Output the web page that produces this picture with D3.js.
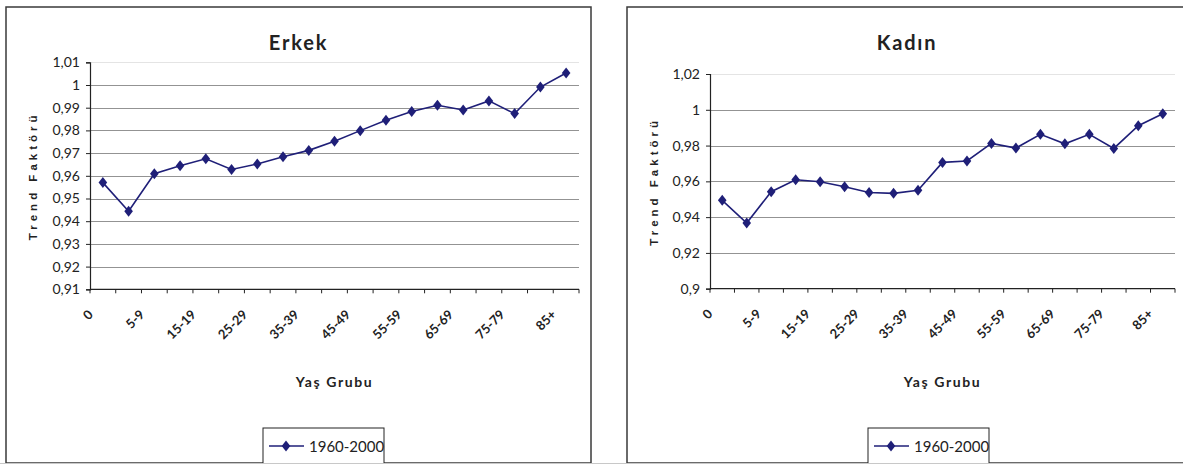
<!DOCTYPE html>
<html>
<head>
<meta charset="utf-8">
<script src="https://cdn.jsdelivr.net/npm/d3@7"></script>
<style>
  html, body { margin: 0; padding: 0; background: #fff; }
  svg { display: block; }
</style>
</head>
<body>
<svg id="chart" width="1183" height="464"></svg>
<script>
// ---- data ----
const categories = ["0","1-4","5-9","10-14","15-19","20-24","25-29","30-34","35-39","40-44",
  "45-49","50-54","55-59","60-64","65-69","70-74","75-79","80-84","85+"];
const erkekValues = [0.957,0.9444,0.9609,0.9644,0.9675,0.9628,0.9652,0.9684,0.9712,0.9752,
  0.9799,0.9845,0.9883,0.9911,0.989,0.993,0.9874,0.9991,1.0053];
const kadinValues = [0.9494,0.9367,0.9542,0.9609,0.9598,0.957,0.9538,0.9533,0.955,0.9706,
  0.9714,0.9812,0.9786,0.9863,0.981,0.9863,0.9784,0.9911,0.9978];
const erkekTicks = [0.91,0.92,0.93,0.94,0.95,0.96,0.97,0.98,0.99,1.0,1.01];
const kadinTicks = [0.90,0.92,0.94,0.96,0.98,1.0,1.02];
const erkekTickLabels = ["0,91","0,92","0,93","0,94","0,95","0,96","0,97","0,98","0,99","1","1,01"];
const kadinTickLabels = ["0,9","0,92","0,94","0,96","0,98","1","1,02"];
const seriesName = "1960-2000";
const titles = ["Erkek","Kadın"];
const yTitle = "Trend Faktörü";
const xTitle = "Yaş Grubu";

const NAVY = "#1f1f78";
const FONT = 'Lato, "Open Sans", sans-serif';
const svg = d3.select("#chart");

const panels = [
  { title: titles[0], values: erkekValues, ticks: erkekTicks, tickLabels: erkekTickLabels,
    box: [6, 7, 585, 456], plot: [90, 579, 62.3, 289.3], domain: [0.91, 1.01],
    yTitleX: 37, legend: [263, 428, 121] },
  { title: titles[1], values: kadinValues, ticks: kadinTicks, tickLabels: kadinTickLabels,
    box: [627, 7, 560, 456], plot: [710, 1175, 74, 288.7], domain: [0.90, 1.02],
    yTitleX: 658, legend: [868, 428, 121] }
];

const diamond = "M0,-5.5L4.3,0L0,5.5L-4.3,0Z";

panels.forEach(p => {
  const [bx, by, bw, bh] = p.box;
  const [x0, x1, yTop, yBot] = p.plot;
  const g = svg.append("g");

  g.append("rect").attr("x", bx).attr("y", by).attr("width", bw).attr("height", bh)
    .attr("fill", "#fff").attr("stroke", "#3a3a3a").attr("stroke-width", 1.5);

  const x = d3.scaleBand().domain(categories).range([x0, x1]).padding(0);
  const y = d3.scaleLinear().domain(p.domain).range([yBot, yTop]);

  // gridlines
  g.append("g").selectAll("line").data(p.ticks.slice(1)).join("line")
    .attr("x1", x0).attr("x2", x1)
    .attr("y1", d => Math.round(y(d)) + 0.5).attr("y2", d => Math.round(y(d)) + 0.5)
    .attr("stroke", (d, i, arr) => i === arr.length - 1 ? "#e4e4e4" : "#939393")
    .attr("stroke-width", 1.2);

  // y axis
  const yAxis = d3.axisLeft(y).tickValues(p.ticks)
    .tickFormat((d, i) => p.tickLabels[i]).tickSize(4).tickPadding(6);
  const ya = g.append("g").attr("transform", `translate(${x0},0)`).call(yAxis);
  ya.select(".domain").attr("stroke", "#222").attr("stroke-width", 1.2);
  ya.selectAll(".tick line").attr("stroke", "#222");
  ya.selectAll("text").attr("font-family", FONT).attr("font-size", 14).attr("fill", "#222");

  // x axis with ticks at category boundaries
  const xa = g.append("g").attr("transform", `translate(0,${yBot})`);
  xa.append("line").attr("x1", x0).attr("x2", x1).attr("y1", 0).attr("y2", 0)
    .attr("stroke", "#222").attr("stroke-width", 1.2);
  const bounds = categories.map(c => x(c)).concat([x1]);
  xa.selectAll("line.tk").data(bounds).join("line").attr("class", "tk")
    .attr("x1", d => d).attr("x2", d => d).attr("y1", 0).attr("y2", 4)
    .attr("stroke", "#222");
  const labelled = categories.filter((c, i) => i % 2 === 0);
  xa.selectAll("text.xl").data(labelled).join("text")
    .attr("class", "xl")
    .attr("x", d => x(d) + x.bandwidth() / 2 - 9)
    .attr("y", 26)
    .attr("transform", d => `rotate(-45 ${x(d) + x.bandwidth() / 2 - 9} 26)`)
    .attr("text-anchor", "end")
    .attr("font-family", FONT).attr("font-size", 13).attr("font-weight", "bold")
    .attr("fill", "#222").text(d => d);

  // line + markers
  const line = d3.line().x((d, i) => x(categories[i]) + x.bandwidth() / 2).y(d => y(d));
  g.append("path").datum(p.values).attr("d", line)
    .attr("fill", "none").attr("stroke", NAVY).attr("stroke-width", 1.6);
  g.append("g").selectAll("path").data(p.values).join("path")
    .attr("d", diamond)
    .attr("transform", (d, i) => `translate(${x(categories[i]) + x.bandwidth() / 2},${y(d)})`)
    .attr("fill", NAVY);

  // title
  g.append("text").attr("x", bx + bw / 2).attr("y", 50).attr("text-anchor", "middle")
    .attr("font-family", FONT).attr("font-size", 20).attr("font-weight", "bold")
    .attr("letter-spacing", 1.8).attr("fill", "#222").text(p.title);

  // y title
  g.append("text").attr("transform", `translate(${p.yTitleX},${(yTop + yBot) / 2}) rotate(-90)`)
    .attr("text-anchor", "middle").attr("font-family", '"Liberation Sans", Arial, sans-serif')
    .attr("font-size", 11.5).attr("font-weight", "bold").attr("letter-spacing", 4)
    .attr("fill", "#222").text(yTitle);

  // x title
  g.append("text").attr("x", (x0 + x1) / 2).attr("y", 387).attr("text-anchor", "middle")
    .attr("font-family", FONT).attr("font-size", 14).attr("font-weight", "bold")
    .attr("letter-spacing", 1.6).attr("fill", "#222").text(xTitle);

  // legend
  const [lx, ly, lw] = p.legend;
  const lg = g.append("g");
  lg.append("rect").attr("x", lx).attr("y", ly).attr("width", lw).attr("height", 40)
    .attr("fill", "#fff").attr("stroke", "#222").attr("stroke-width", 1);
  lg.append("line").attr("x1", lx + 6).attr("x2", lx + 41).attr("y1", ly + 18).attr("y2", ly + 18)
    .attr("stroke", NAVY).attr("stroke-width", 1.6);
  lg.append("path").attr("d", diamond).attr("transform", `translate(${lx + 23},${ly + 18})`)
    .attr("fill", NAVY);
  lg.append("text").attr("x", lx + 46).attr("y", ly + 23.5).attr("font-family", FONT)
    .attr("font-size", 15).attr("fill", "#222").text(seriesName);
});

svg.append("line").attr("x1", 0).attr("x2", 1183).attr("y1", 463.5).attr("y2", 463.5)
  .attr("stroke", "#c8c8c8").attr("stroke-width", 1);
</script>
</body>
</html>
